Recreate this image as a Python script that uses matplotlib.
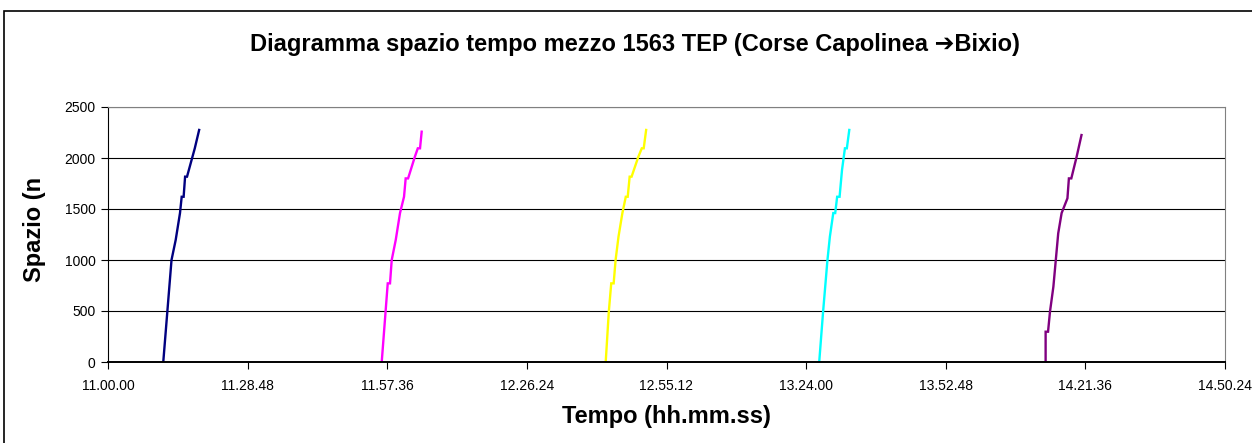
import matplotlib
matplotlib.use("Agg")
import matplotlib.pyplot as plt
from matplotlib.patches import Rectangle

plt.rcParams['font.family'] = ['Liberation Sans', 'DejaVu Sans']

# tempo in minuti dalle 11.00.00, spazio in metri
t1 = [11.4, 13.1, 13.96, 14.85, 15.2, 15.6, 15.9, 16.3, 17.9, 18.8]
s1 = [0, 1000, 1196, 1460, 1620, 1620, 1817, 1817, 2095, 2275]

t2 = [56.46, 57.7, 58.17, 58.52, 59.35, 60.23, 61.06, 61.4, 61.9, 63.3, 63.9, 64.36, 64.7]
s2 = [0, 771, 771, 1000, 1196, 1460, 1620, 1800, 1800, 2013, 2095, 2095, 2258]

t3 = [102.66, 103.3, 103.8, 104.3, 104.7, 105.3, 106.1, 106.8, 107.2, 107.6, 108.0,
      109.4, 110.1, 110.5, 111.0]
s3 = [0, 493, 771, 771, 1000, 1229, 1460, 1620, 1620, 1817, 1817, 2013, 2095, 2095, 2275]

t4 = [146.7, 147.5, 148.4, 148.9, 149.6, 150.0, 150.4, 150.9, 151.4, 152.0, 152.4, 152.9]
s4 = [0, 493, 1000, 1229, 1460, 1460, 1620, 1620, 1882, 2095, 2095, 2275]

t5 = [193.4, 193.4, 193.9, 194.3, 195.0, 195.5, 196.0, 196.7, 197.9, 198.2, 198.7,
      199.8, 200.8]
s5 = [0, 297, 297, 493, 738, 1000, 1262, 1460, 1605, 1800, 1800, 2013, 2225]

corse = [(t1, s1, '#000080'), (t2, s2, '#FF00FF'), (t3, s3, '#FFFF00'),
         (t4, s4, '#00FFFF'), (t5, s5, '#800080')]

x_ticks = [0, 28.8, 57.6, 86.4, 115.2, 144.0, 172.8, 201.6, 230.4]
x_labels = ['11.00.00', '11.28.48', '11.57.36', '12.26.24', '12.55.12',
            '13.24.00', '13.52.48', '14.21.36', '14.50.24']
y_ticks = [0, 500, 1000, 1500, 2000, 2500]

fig = plt.figure(figsize=(12.52, 4.43), dpi=100, facecolor='white')
ax = fig.add_axes([108 / 1252, 1 - 362 / 443, (1225 - 108) / 1252, (362 - 107) / 443])

for t, s, c in corse:
    ax.plot(t, s, color=c, lw=1.7, solid_joinstyle='miter')

ax.set_xlim(0, 230.4)
ax.set_ylim(0, 2500)
ax.set_xticks(x_ticks)
ax.set_xticklabels(x_labels)
ax.set_yticks(y_ticks)
ax.tick_params(axis='both', labelsize=10, length=5, width=0.8, color='black', pad=4)
ax.tick_params(axis='x', pad=7)

ax.grid(axis='y', color='black', lw=0.8)
ax.set_axisbelow(True)
ax.spines['left'].set_color('black')
ax.spines['bottom'].set_color('black')
ax.spines['bottom'].set_linewidth(1.4)
ax.spines['right'].set_color('#808080')
ax.spines['top'].set_color('#808080')

fig.text(635 / 1252, 1 - 44 / 443,
         'Diagramma spazio tempo mezzo 1563 TEP (Corse Capolinea \u2794Bixio)',
         ha='center', va='center', fontsize=17, fontweight='bold')
fig.text(666 / 1252, 1 - 416 / 443, 'Tempo (hh.mm.ss)',
         ha='center', va='center', fontsize=17, fontweight='bold')
fig.text(35 / 1252, 1 - 229 / 443, 'Spazio (n', rotation=90,
         ha='center', va='center', fontsize=17, fontweight='bold')

# cornice dell'area del grafico
fig.patches.append(Rectangle((4 / 1252, -0.1), 1.2, 1 - 11 / 443 + 0.1,
                             transform=fig.transFigure, fill=False,
                             edgecolor='black', lw=1.2, clip_on=False))

fig.savefig('out.png', dpi=100)
